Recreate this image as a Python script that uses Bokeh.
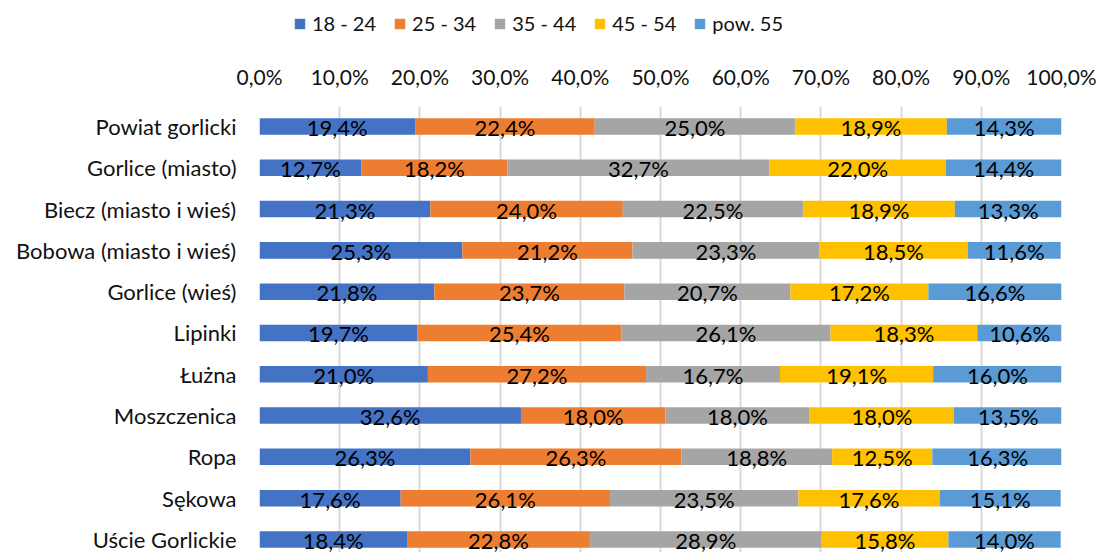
from bokeh.plotting import figure
from bokeh.layouts import column
from bokeh.core.properties import value
from bokeh.models import (ColumnDataSource, Range1d, FixedTicker, LinearAxis,
                          Legend, LegendItem, LabelSet, Grid)
from bokeh.embed import file_html
from bokeh.resources import INLINE

categories = ["Powiat gorlicki", "Gorlice (miasto)", "Biecz (miasto i wieś)",
              "Bobowa (miasto i wieś)", "Gorlice (wieś)", "Lipinki", "Łużna",
              "Moszczenica", "Ropa", "Sękowa", "Uście Gorlickie"]
series = ["18 - 24", "25 - 34", "35 - 44", "45 - 54", "pow. 55"]
colors = ["#4472C4", "#ED7D31", "#A5A5A5", "#FFC000", "#5B9BD5"]
s18_24 = [19.4, 12.7, 21.3, 25.3, 21.8, 19.7, 21.0, 32.6, 26.3, 17.6, 18.4]
s25_34 = [22.4, 18.2, 24.0, 21.2, 23.7, 25.4, 27.2, 18.0, 26.3, 26.1, 22.8]
s35_44 = [25.0, 32.7, 22.5, 23.3, 20.7, 26.1, 16.7, 18.0, 18.8, 23.5, 28.9]
s45_54 = [18.9, 22.0, 18.9, 18.5, 17.2, 18.3, 19.1, 18.0, 12.5, 17.6, 15.8]
s55 = [14.3, 14.4, 13.3, 11.6, 16.6, 10.6, 16.0, 13.5, 16.3, 15.1, 14.0]
x_ticks = [0, 10, 20, 30, 40, 50, 60, 70, 80, 90, 100]
x_tick_labels = ["0,0%", "10,0%", "20,0%", "30,0%", "40,0%", "50,0%",
                 "60,0%", "70,0%", "80,0%", "90,0%", "100,0%"]

FONT = "Lato"
TEXT_COLOR = "#111111"
LEG_H = 56

values = [s18_24, s25_34, s35_44, s45_54, s55]
ypos = list(range(len(categories)))
data = {"y": ypos}
for name, vals in zip(series, values):
    data[name] = vals
source = ColumnDataSource(data)

# ---------------- legend strip ----------------
# hidden copies of the stacked bars feed the legend (click_policy "none" => no greying)
pl = figure(width=1100, height=LEG_H, output_backend="svg", toolbar_location=None,
            x_range=Range1d(0, 100), y_range=Range1d(-100, -99),
            x_axis_location=None, y_axis_location=None,
            min_border_left=259, min_border_right=39, min_border_top=0,
            min_border_bottom=0)
pl.outline_line_color = None
pl.xgrid.visible = False
pl.ygrid.visible = False
leg_renderers = pl.hbar_stack(series, y="y", height=0.4, color=colors, source=source,
                              line_color=None)
for r in leg_renderers:
    r.visible = False
legend = Legend(items=[LegendItem(label=s, renderers=[r]) for s, r in zip(series, leg_renderers)],
                orientation="horizontal", location=(34, 21), click_policy="none",
                glyph_width=13, glyph_height=13, label_standoff=6, spacing=17,
                padding=0, margin=0, border_line_color=None,
                background_fill_alpha=0, inactive_fill_alpha=0,
                label_text_font=FONT,
                label_text_font_size="20px", label_text_color=TEXT_COLOR)
pl.add_layout(legend, "center")

# ---------------- main chart ----------------
p = figure(width=1100, height=552 - LEG_H, output_backend="svg", toolbar_location=None,
           x_range=Range1d(0, 100), y_range=Range1d(10.316, -0.484),
           x_axis_location=None, y_axis_location=None,
           min_border_left=259, min_border_right=39, min_border_top=106 - LEG_H,
           min_border_bottom=0)
p.outline_line_color = None

p.hbar_stack(series, y="y", height=0.4, color=colors, source=source, line_color=None)

# value labels
lx, ly, lt = [], [], []
for i in ypos:
    cum = 0.0
    for vals in values:
        v = vals[i]
        lx.append(cum + v / 2)
        ly.append(i)
        lt.append(f"{v:.1f}".replace(".", ",") + "%")
        cum += v
lsrc = ColumnDataSource(dict(x=lx, y=ly, t=lt))
labels = LabelSet(x="x", y="y", text="t", source=lsrc, text_align="center",
                  text_baseline="middle", text_font=value(FONT),
                  text_font_size=value("22px"), text_color="#000000", y_offset=-1)
p.add_layout(labels)

xaxis = LinearAxis(ticker=FixedTicker(ticks=x_ticks),
                   major_label_overrides={t: l for t, l in zip(x_ticks, x_tick_labels)})
xaxis.axis_line_color = None
xaxis.major_tick_line_color = None
xaxis.minor_tick_line_color = None
xaxis.major_label_text_font = FONT
xaxis.major_label_text_font_size = "21px"
xaxis.major_label_text_color = TEXT_COLOR
xaxis.major_label_standoff = 12
p.add_layout(xaxis, "above")

yaxis = LinearAxis(ticker=FixedTicker(ticks=ypos),
                   major_label_overrides={i: c for i, c in zip(ypos, categories)})
yaxis.axis_line_color = None
yaxis.major_tick_line_color = None
yaxis.minor_tick_line_color = None
yaxis.major_label_text_font = FONT
yaxis.major_label_text_font_size = "22px"
yaxis.major_label_text_color = TEXT_COLOR
yaxis.major_label_standoff = 17
p.add_layout(yaxis, "left")

p.xgrid.visible = False
p.ygrid.visible = False
g = Grid(dimension=0, ticker=FixedTicker(ticks=x_ticks), grid_line_color="#d9d9d9",
         grid_line_width=2)
p.add_layout(g)

layout = column(pl, p, spacing=0)
open("out.html", "w").write(file_html(layout, INLINE))
